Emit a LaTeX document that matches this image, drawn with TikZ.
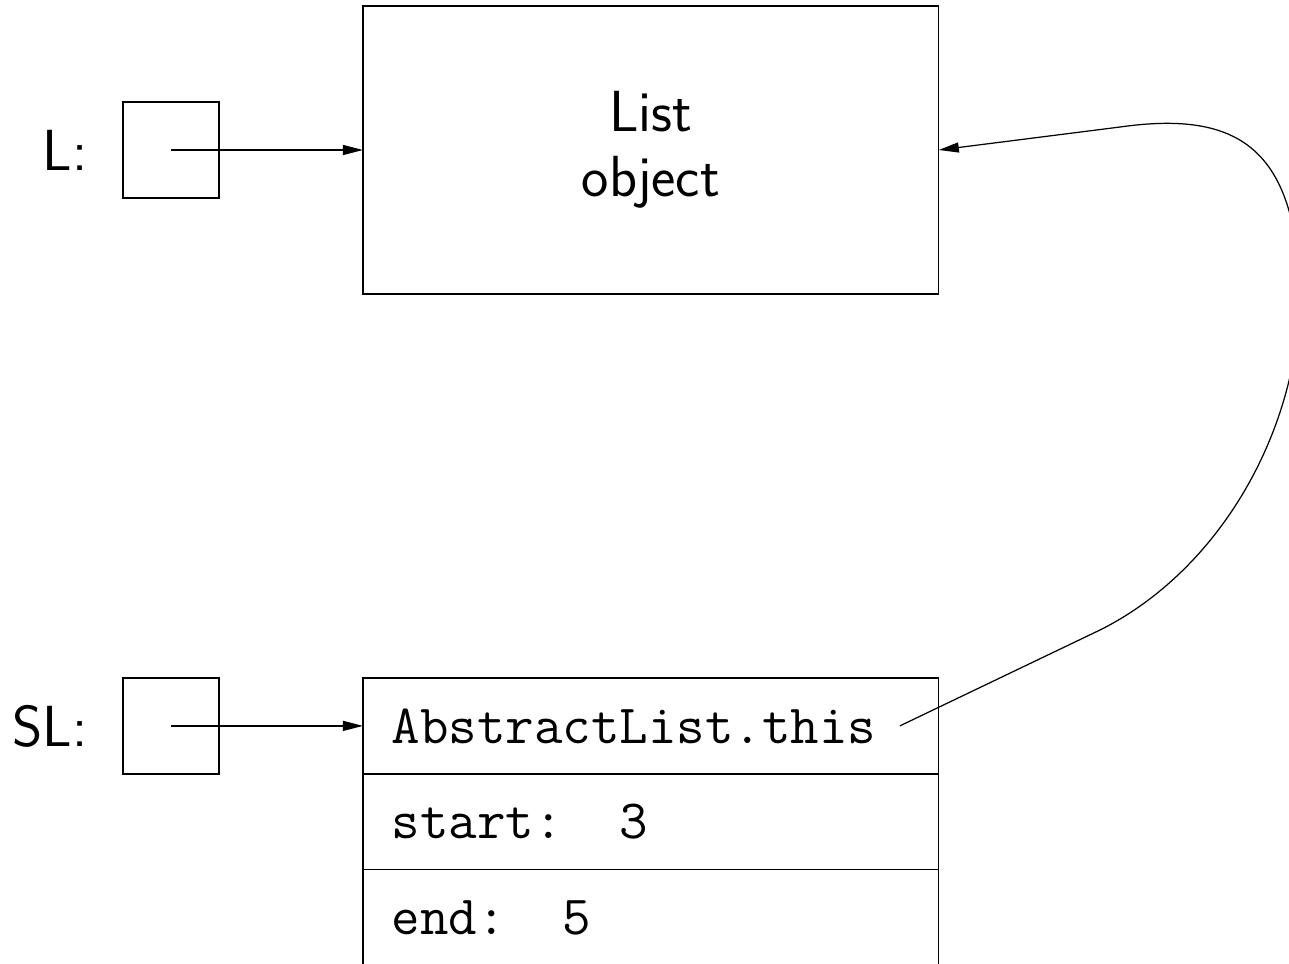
\documentclass[tikz,border=0pt]{standalone}
\usepackage{tikz}
\usetikzlibrary{positioning,arrows.meta}

\begin{document}
\begin{tikzpicture}[x=0.02cm,y=-0.02cm,line width=0.7pt,
    >={Triangle[length=0.4cm,width=0.2cm]},
    lbl/.style={font=\sffamily\fontsize{33}{37}\selectfont,inner sep=0pt},
    ptr/.style={draw,minimum size=1.92cm,inner sep=0pt,outer sep=0pt},
    field/.style={draw,outer sep=0pt,minimum height=1.92cm,text width=10.36cm,
        inner xsep=0.58cm,inner ysep=0pt,align=left,
        font=\ttfamily\fontsize{31.5}{36}\selectfont}]
    \useasboundingbox (0,0) rectangle (1289,964);
    \clip (0,0) rectangle (1289,964);
    % top: L and the list object
    \node[ptr] (l_ptr) at (171,150) {};
    \node[lbl] (l_name) [left=0.7cm of l_ptr] {L:};
    \node[lbl,draw,outer sep=0pt,minimum width=11.52cm,minimum height=5.76cm,align=center]
        (obj) [right=2.88cm of l_ptr] {List\\object};
    % bottom: SL and its frame
    \node[ptr] (sl_ptr) [below=9.6cm of l_ptr] {};
    \node[lbl] (sl_name) [left=0.7cm of sl_ptr] {SL:};
    \node[field] (f_0) [right=2.88cm of sl_ptr] {AbstractList.this};
    \node[field] (f_1) [below=0pt of f_0] {start:\phantom{xx}3};
    \node[field] (f_2) [below=0pt of f_1] {end:\phantom{xx}5};
    \coordinate[left=0.78cm of f_0.east] (this_end);
    \draw[->] (l_ptr.center) -- (obj.west);
    \draw[->] (sl_ptr.center) -- (f_0.west);
    \draw[->] (this_end) -- (1100,630)
        .. controls (1220,570) and (1300,430) .. (1300,290)
        .. controls (1295,150) and (1240,110) .. (1120,127) -- (obj.east);
\end{tikzpicture}
\end{document}
